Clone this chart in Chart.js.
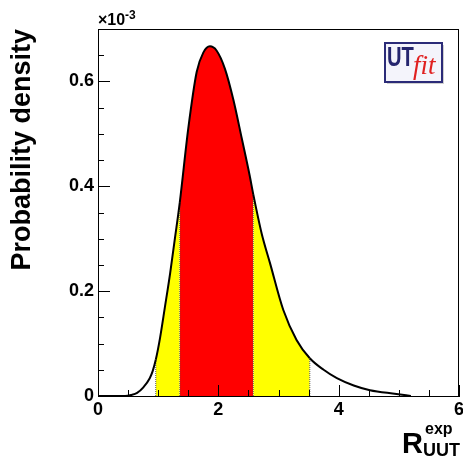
<!DOCTYPE html>
<html>
<head>
<meta charset="utf-8">
<script src="https://cdn.jsdelivr.net/npm/chart.js@4.4.1/dist/chart.umd.min.js"></script>
<style>
body{margin:0;background:#fff}
#wrap{width:463px;height:460px}
</style>
</head>
<body>
<div id="wrap"><canvas id="myChart" width="463" height="460"></canvas></div>
<script>
// R_UUT^exp values and the probability density (in units of 1e-3)
var rVals   = [0, 0.45, 0.55, 0.65, 0.75, 0.86, 0.91, 0.96, 1.03, 1.11, 1.2, 1.28, 1.36, 1.5, 1.64, 1.75, 1.86, 1.97, 2.11, 2.25, 2.39, 2.52, 2.58, 2.72, 2.86, 3.08, 3.3, 3.52, 3.75, 3.97, 4.25, 4.52, 4.96, 5.2]
var density = [0, 0, 0.002, 0.006, 0.016, 0.034, 0.048, 0.069, 0.11, 0.168, 0.235, 0.302, 0.37, 0.51, 0.618, 0.655, 0.667, 0.659, 0.624, 0.565, 0.491, 0.421, 0.385, 0.31, 0.253, 0.164, 0.107, 0.072, 0.05, 0.034, 0.02, 0.011, 0.004, 0]
// 68% and 95% probability ranges
var band68 = [1.36, 2.58]
var band95 = [0.96, 3.52]
var xTicks = [0, 2, 4, 6]
var yTicks = [0, 0.2, 0.4, 0.6]

var fontFam = "'Liberation Sans', Arial, Helvetica, sans-serif"

var points = []
for (var i = 0; i < rVals.length; i++) {
    points.push({x: rVals[i], y: density[i]})
}

// dotted edges of the coloured ranges
var edges = band95.concat(band68).map(function (b) {
    var k = rVals.indexOf(b)
    return {
        data: [{x: b, y: 0}, {x: b, y: density[k]}],
        borderColor: '#555',
        borderWidth: 1,
        borderDash: [1, 1],
        pointRadius: 0,
        fill: false
    }
})

function bandColor(c) {
    var a = c.p0.parsed.x, b = c.p1.parsed.x
    if (a >= band68[0] && b <= band68[1]) return '#ff0000'
    if (a >= band95[0] && b <= band95[1]) return '#ffff00'
    return 'rgba(0,0,0,0)'
}

// inward ticks, top/right frame, exponent, x title and logo
var extras = {
    id: 'extras',
    afterDraw: function (chart) {
        var c = chart.ctx, a = chart.chartArea
        var xs = chart.scales.x, ys = chart.scales.y
        c.save()
        c.strokeStyle = '#000'
        c.lineWidth = 1
        c.beginPath()
        for (var v = 0; v <= 6.001; v += 0.5) {
            var px = Math.round(xs.getPixelForValue(v)) + 0.5
            var len = (Math.abs(v % 2) < 1e-6) ? 11 : 6
            c.moveTo(px, a.bottom)
            c.lineTo(px, a.bottom - len)
        }
        for (var w = 0; w <= 0.7001; w += 0.05) {
            var py = Math.round(ys.getPixelForValue(w)) + 0.5
            var l2 = (Math.abs(Math.round(w * 100) % 20) < 1e-6) ? 12 : 6
            c.moveTo(a.left, py)
            c.lineTo(a.left + l2, py)
        }
        c.stroke()
        c.strokeRect(a.left + 0.5, a.top + 0.5, a.right - a.left - 1, a.bottom - a.top)

        c.fillStyle = '#000'
        c.textBaseline = 'alphabetic'
        c.textAlign = 'left'
        c.font = 'bold 16px ' + fontFam
        c.fillText('\u00d710', a.left, 25)
        c.font = 'bold 12px ' + fontFam
        c.fillText('-3', a.left + 27, 19)

        c.font = 'bold 29px ' + fontFam
        c.fillText('R', 402, 453)
        c.font = 'bold 16px ' + fontFam
        c.fillText('exp', 425, 434)
        c.font = 'bold 18px ' + fontFam
        c.fillText('UUT', 423, 456)

        // UTfit logo
        c.fillStyle = '#cfcfcf'
        c.fillRect(387, 45, 57, 39)
        c.fillStyle = '#f4f4fb'
        c.fillRect(385, 43, 57, 39)
        c.strokeStyle = '#2b2b78'
        c.lineWidth = 2
        c.strokeRect(385, 43, 57, 39)
        c.fillStyle = '#25256e'
        c.font = 'bold 28px ' + fontFam
        c.save()
        c.translate(387, 66)
        c.scale(0.72, 1)
        c.fillText('UT', 0, 0)
        c.restore()
        c.fillStyle = '#e02020'
        c.font = 'italic 27px "Liberation Serif", "DejaVu Serif", serif'
        c.fillText('fit', 413, 74)
        c.restore()
    }
}

var ctx = document.getElementById('myChart').getContext('2d')
var chart = new Chart(ctx, {
    type: 'line',
    data: {
        datasets: [{
            data: points,
            borderColor: '#000',
            borderWidth: 2,
            backgroundColor: 'rgba(0,0,0,0)',
            pointRadius: 0,
            cubicInterpolationMode: 'monotone',
            fill: 'origin',
            segment: {backgroundColor: bandColor}
        }].concat(edges)
    },
    options: {
        responsive: false,
        animation: false,
        layout: {padding: {left: 0, right: 4, top: 29, bottom: 0}},
        plugins: {
            legend: {display: false},
            tooltip: {enabled: false},
            filler: {drawTime: 'beforeDatasetsDraw'}
        },
        scales: {
            x: {
                type: 'linear',
                min: 0,
                max: 6,
                afterFit: function (s) { s.height = 64; s.paddingLeft = 0; s.paddingRight = 0 },
                afterBuildTicks: function (s) { s.ticks = xTicks.map(function (v) { return {value: v} }) },
                grid: {drawOnChartArea: false, drawTicks: false},
                border: {color: '#000', width: 1},
                ticks: {
                    color: '#000',
                    padding: 3,
                    maxRotation: 0,
                    font: {family: fontFam, size: 18, weight: 'bold'},
                    callback: function (v) { return String(v) }
                }
            },
            y: {
                type: 'linear',
                min: 0,
                max: 0.7,
                afterFit: function (s) { s.width = 98 },
                afterBuildTicks: function (s) { s.ticks = yTicks.map(function (v) { return {value: v} }) },
                grid: {drawOnChartArea: false, drawTicks: false},
                border: {color: '#000', width: 1},
                title: {
                    display: true,
                    text: 'Probability density',
                    align: 'end',
                    color: '#000',
                    padding: {top: 6, bottom: 0},
                    font: {family: fontFam, size: 27, weight: 'bold'}
                },
                ticks: {
                    color: '#000',
                    padding: 4,
                    font: {family: fontFam, size: 18, weight: 'bold'},
                    callback: function (v) { return v === 0 ? '0' : v.toFixed(1) }
                }
            }
        }
    },
    plugins: [extras]
})
</script>
</body>
</html>
